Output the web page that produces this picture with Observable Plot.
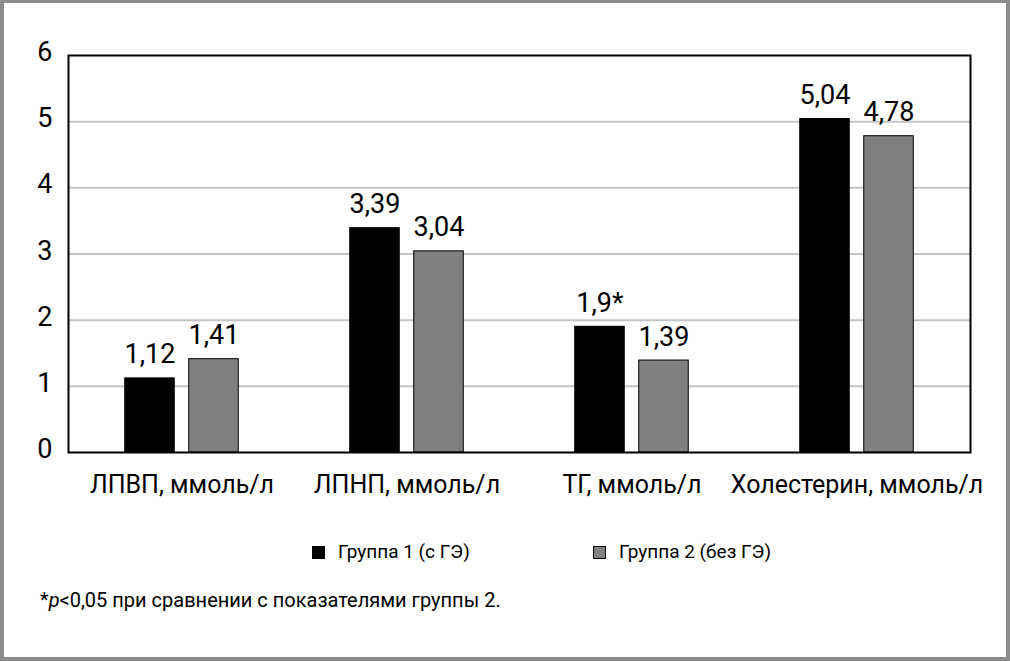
<!DOCTYPE html>
<html>
<head>
<meta charset="utf-8">
<script src="https://cdn.jsdelivr.net/npm/d3@7"></script>
<script src="https://cdn.jsdelivr.net/npm/@observablehq/plot@0.6"></script>
<style>
  html, body { margin: 0; padding: 0; background: #fff; }
  #wrap { position: relative; width: 1010px; height: 661px; overflow: hidden; color: #000; }
  #border { position: absolute; left: 0; top: 0; width: 1010px; height: 661px; box-sizing: border-box; border: 4px solid #8c8c8c; border-top-width: 3px; pointer-events: none; }
  #chart { position: absolute; left: 0; top: 0; }
  .leg { position: absolute; top: 540px; line-height: 24px; display: flex; align-items: center; white-space: nowrap; }
  .sw { display: inline-block; width: 13px; height: 13px; box-sizing: border-box; border: 1px solid #000; margin-right: 13px; }
  #note { position: absolute; left: 40px; top: 588px; line-height: 24px; white-space: nowrap; }
</style>
</head>
<body>
<div id="wrap">
  <div id="chart"></div>
  <div id="legend"></div>
  <div id="note">*<i>p</i>&lt;0,05 при сравнении с показателями группы 2.</div>
  <div id="border"></div>
</div>
<script>
const categories = ["ЛПВП, ммоль/л", "ЛПНП, ммоль/л", "ТГ, ммоль/л", "Холестерин, ммоль/л"];
const groups = ["Группа 1 (с ГЭ)", "Группа 2 (без ГЭ)"];
const group1Values = [1.12, 3.39, 1.9, 5.04];
const group2Values = [1.41, 3.04, 1.39, 4.78];
const group1Labels = ["1,12", "3,39", "1,9*", "5,04"];
const group2Labels = ["1,41", "3,04", "1,39", "4,78"];
const yTicks = [0, 1, 2, 3, 4, 5, 6];
const colors = ["#000000", "#808080"];

const FONT = 'Roboto, "Liberation Sans", sans-serif';
const S = {tick: 27, cat: 25, val: 27, leg: 19, note: 20};

document.getElementById("wrap").style.fontFamily = FONT;
document.getElementById("note").style.fontSize = S.note + "px";

const rows = [];
categories.forEach((c, i) => {
  rows.push({cat: c, group: groups[0], value: group1Values[i], label: group1Labels[i]});
  rows.push({cat: c, group: groups[1], value: group2Values[i], label: group2Labels[i]});
});

const W = 1010, mL = 68, mR = 40, mT = 55, mB = 48;
const H = 452 + mB;
const band = (W - mL - mR) / categories.length;
const barW = 50, off = 32;
const inset = (band - barW) / 2;

const g1 = rows.filter(d => d.group === groups[0]);
const g2 = rows.filter(d => d.group === groups[1]);

const plot = Plot.plot({
  width: W, height: H,
  marginLeft: mL, marginRight: mR, marginTop: mT, marginBottom: mB,
  style: {fontFamily: FONT, background: "transparent", color: "#000"},
  x: {domain: categories, padding: 0, label: null},
  y: {domain: [0, 6], label: null},
  marks: [
    Plot.ruleY([1, 2, 3, 4, 5], {stroke: "#c4c4c4", strokeWidth: 2}),
    Plot.barY(g1, {x: "cat", y: "value", fill: colors[0], stroke: "#000", strokeWidth: 1, insetLeft: inset, insetRight: inset, dx: -off}),
    Plot.barY(g2, {x: "cat", y: "value", fill: colors[1], stroke: "#000", strokeWidth: 1, insetLeft: inset, insetRight: inset, dx: off}),
    Plot.text(g1, {x: "cat", y: "value", text: "label", dx: -off, dy: -15, lineAnchor: "bottom", fontSize: S.val, fill: "#000"}),
    Plot.text(g2, {x: "cat", y: "value", text: "label", dx: off, dy: -15, lineAnchor: "bottom", fontSize: S.val, fill: "#000"}),
    Plot.frame({stroke: "#000", strokeWidth: 2}),
    Plot.axisY({ticks: yTicks, tickFormat: d3.format("d"), tickSize: 0, tickPadding: 16, fontSize: S.tick, dy: -3, label: null}),
    Plot.axisX({tickSize: 0, tickPadding: 23, fontSize: S.cat, label: null})
  ]
});
document.getElementById("chart").appendChild(plot);

const legend = document.getElementById("legend");
const legX = [312, 593];
groups.forEach((g, i) => {
  const el = document.createElement("div");
  el.className = "leg";
  el.style.left = legX[i] + "px";
  el.style.fontSize = S.leg + "px";
  const sw = document.createElement("span");
  sw.className = "sw";
  sw.style.background = colors[i];
  el.appendChild(sw);
  el.appendChild(document.createTextNode(g));
  legend.appendChild(el);
});
</script>
</body>
</html>
